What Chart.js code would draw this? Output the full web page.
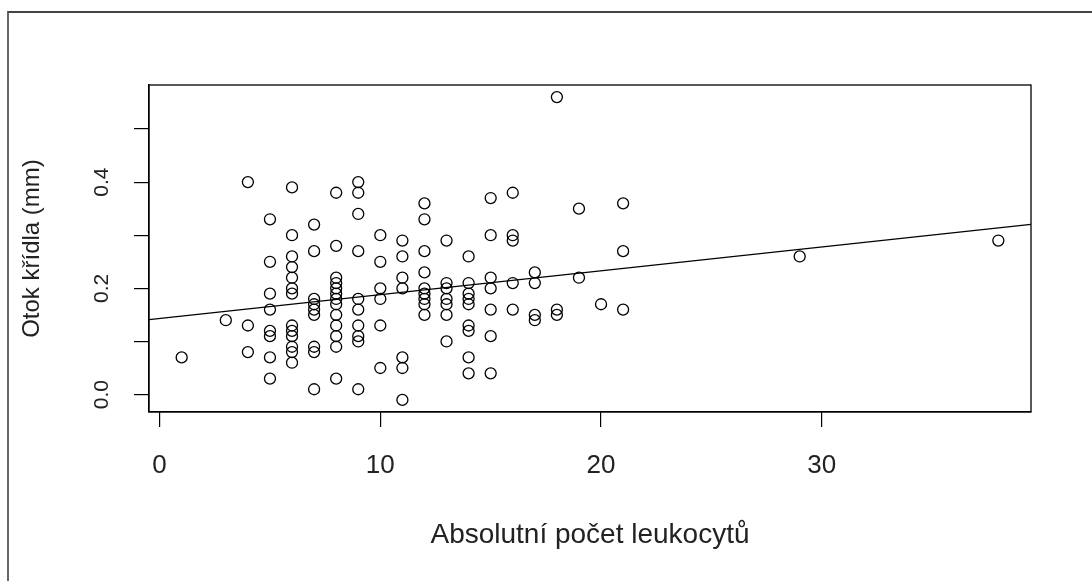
<!DOCTYPE html>
<html>
<head>
<meta charset="utf-8">
<script src="https://cdn.jsdelivr.net/npm/chart.js@4"></script>
<style>
    html, body { margin: 0; padding: 0; background: #fff; }
    #wrap { position: relative; width: 1092px; height: 581px; }
    #frame {
        position: absolute; left: 7px; top: 11px; right: 0; bottom: 0;
        border-top: 2px solid #444; border-left: 2px solid #666;
        pointer-events: none;
    }
</style>
</head>
<body>
<div id="wrap">
    <canvas id="scatterChart" width="1092" height="581"></canvas>
    <div id="frame"></div>
</div>
<script>
// absolutní počet leukocytů (x) a otok křídla v mm (y), bod po bodu
const leukocytes = [
    1, 3, 4, 4, 4,
    5, 5, 5, 5, 5, 5, 5, 5,
    6, 6, 6, 6, 6, 6, 6, 6, 6, 6, 6, 6, 6,
    7, 7, 7, 7, 7, 7, 7, 7, 7,
    8, 8, 8, 8, 8, 8, 8, 8, 8, 8, 8, 8, 8,
    9, 9, 9, 9, 9, 9, 9, 9, 9, 9,
    10, 10, 10, 10, 10, 10,
    11, 11, 11, 11, 11, 11, 11,
    12, 12, 12, 12, 12, 12, 12, 12, 12,
    13, 13, 13, 13, 13, 13, 13,
    14, 14, 14, 14, 14, 14, 14, 14, 14,
    15, 15, 15, 15, 15, 15, 15,
    16, 16, 16, 16, 16,
    17, 17, 17, 17,
    18, 18, 18,
    19, 19,
    20,
    21, 21, 21,
    29, 38
];
const wingSwelling = [
    0.07, 0.14, 0.40, 0.13, 0.08,
    0.33, 0.25, 0.19, 0.16, 0.12, 0.11, 0.07, 0.03,
    0.39, 0.30, 0.26, 0.24, 0.22, 0.20, 0.19, 0.13, 0.12, 0.11, 0.09, 0.08, 0.06,
    0.32, 0.27, 0.18, 0.17, 0.16, 0.15, 0.09, 0.08, 0.01,
    0.38, 0.28, 0.22, 0.21, 0.20, 0.19, 0.18, 0.17, 0.15, 0.13, 0.11, 0.09, 0.03,
    0.40, 0.38, 0.34, 0.27, 0.18, 0.16, 0.13, 0.11, 0.10, 0.01,
    0.30, 0.25, 0.20, 0.18, 0.13, 0.05,
    0.29, 0.26, 0.22, 0.20, 0.07, 0.05, -0.01,
    0.36, 0.33, 0.27, 0.23, 0.20, 0.19, 0.18, 0.17, 0.15,
    0.29, 0.21, 0.20, 0.18, 0.17, 0.15, 0.10,
    0.26, 0.21, 0.19, 0.18, 0.17, 0.13, 0.12, 0.07, 0.04,
    0.37, 0.30, 0.22, 0.20, 0.16, 0.11, 0.04,
    0.38, 0.30, 0.29, 0.21, 0.16,
    0.23, 0.21, 0.15, 0.14,
    0.56, 0.16, 0.15,
    0.35, 0.22,
    0.17,
    0.36, 0.27, 0.16,
    0.26, 0.29
];
const xTicks = [0, 10, 20, 30];
const yTicks = [0.0, 0.1, 0.2, 0.3, 0.4, 0.5];
const yTickLabels = ['0.0', '', '0.2', '', '0.4', ''];

const points = leukocytes.map((x, i) => ({ x: x, y: wingSwelling[i] }));

// rozsah os jako v R (data + 4 % na každou stranu)
const padRange = (arr) => {
    const lo = Math.min(...arr);
    const hi = Math.max(...arr);
    const ext = (hi - lo) * 0.04;
    return [lo - ext, hi + ext];
};
const [xMin, xMax] = padRange(leukocytes);
const [yMin, yMax] = padRange(wingSwelling);

// lineární regrese (abline)
const n = leukocytes.length;
const mx = leukocytes.reduce((a, b) => a + b, 0) / n;
const my = wingSwelling.reduce((a, b) => a + b, 0) / n;
let sxy = 0, sxx = 0;
leukocytes.forEach((x, i) => {
    sxy += (x - mx) * (wingSwelling[i] - my);
    sxx += (x - mx) * (x - mx);
});
const slope = sxy / sxx;
const intercept = my - slope * mx;
const fitLine = [xMin, xMax].map(x => ({ x: x, y: intercept + slope * x }));

const family = '"Liberation Sans", Arial, sans-serif';

// rámeček kolem plochy grafu
const boxPlugin = {
    id: 'box',
    afterDatasetsDraw(chart) {
        const { ctx, chartArea } = chart;
        ctx.save();
        ctx.strokeStyle = '#000';
        ctx.lineWidth = 1.3;
        ctx.strokeRect(chartArea.left, chartArea.top, chartArea.right - chartArea.left, chartArea.bottom - chartArea.top);
        ctx.restore();
    }
};

const ctx = document.getElementById('scatterChart').getContext('2d');
new Chart(ctx, {
    type: 'scatter',
    data: {
        datasets: [{
            label: 'Otok křídla',
            data: points,
            pointRadius: 5.5,
            pointBorderWidth: 1.3,
            pointBorderColor: '#000',
            pointBackgroundColor: 'rgba(0,0,0,0)',
            pointHoverRadius: 5.5
        }, {
            type: 'line',
            label: 'Regrese',
            data: fitLine,
            borderColor: '#000',
            borderWidth: 1.3,
            pointRadius: 0,
            fill: false
        }]
    },
    options: {
        responsive: false,
        animation: false,
        clip: true,
        layout: { padding: { left: 0, top: 85, right: 61, bottom: 0 } },
        plugins: {
            legend: { display: false },
            tooltip: { enabled: false }
        },
        scales: {
            x: {
                type: 'linear',
                min: xMin,
                max: xMax,
                afterBuildTicks(scale) {
                    scale.ticks = xTicks.map(v => ({ value: v }));
                },
                afterFit(scale) {
                    scale.height = 169;
                },
                grid: { display: true, drawOnChartArea: false, drawTicks: true, tickLength: 15, color: '#000', lineWidth: 1.2 },
                border: { display: true, color: '#000', width: 1.3 },
                ticks: {
                    color: '#222',
                    font: { family: family, size: 26 },
                    padding: 23,
                    maxRotation: 0,
                    callback: (v) => String(v)
                },
                title: {
                    display: true,
                    text: 'Absolutní počet leukocytů',
                    color: '#222',
                    font: { family: family, size: 28 },
                    padding: { top: 0, bottom: 29 }
                }
            },
            y: {
                type: 'linear',
                min: yMin,
                max: yMax,
                afterBuildTicks(scale) {
                    scale.ticks = yTicks.map(v => ({ value: v }));
                },
                afterFit(scale) {
                    scale.width = 149;
                },
                grid: { display: true, drawOnChartArea: false, drawTicks: true, tickLength: 15, color: '#000', lineWidth: 1.2 },
                border: { display: true, color: '#000', width: 1.3 },
                ticks: {
                    color: '#222',
                    font: { family: family, size: 21 },
                    padding: 17,
                    minRotation: 90,
                    maxRotation: 90,
                    crossAlign: 'center',
                    callback: (v, i) => yTickLabels[i]
                },
                title: {
                    display: true,
                    text: 'Otok křídla (mm)',
                    color: '#222',
                    font: { family: family, size: 24 },
                    padding: { top: 18, bottom: 0 }
                }
            }
        }
    },
    plugins: [boxPlugin]
});
</script>
</body>
</html>
